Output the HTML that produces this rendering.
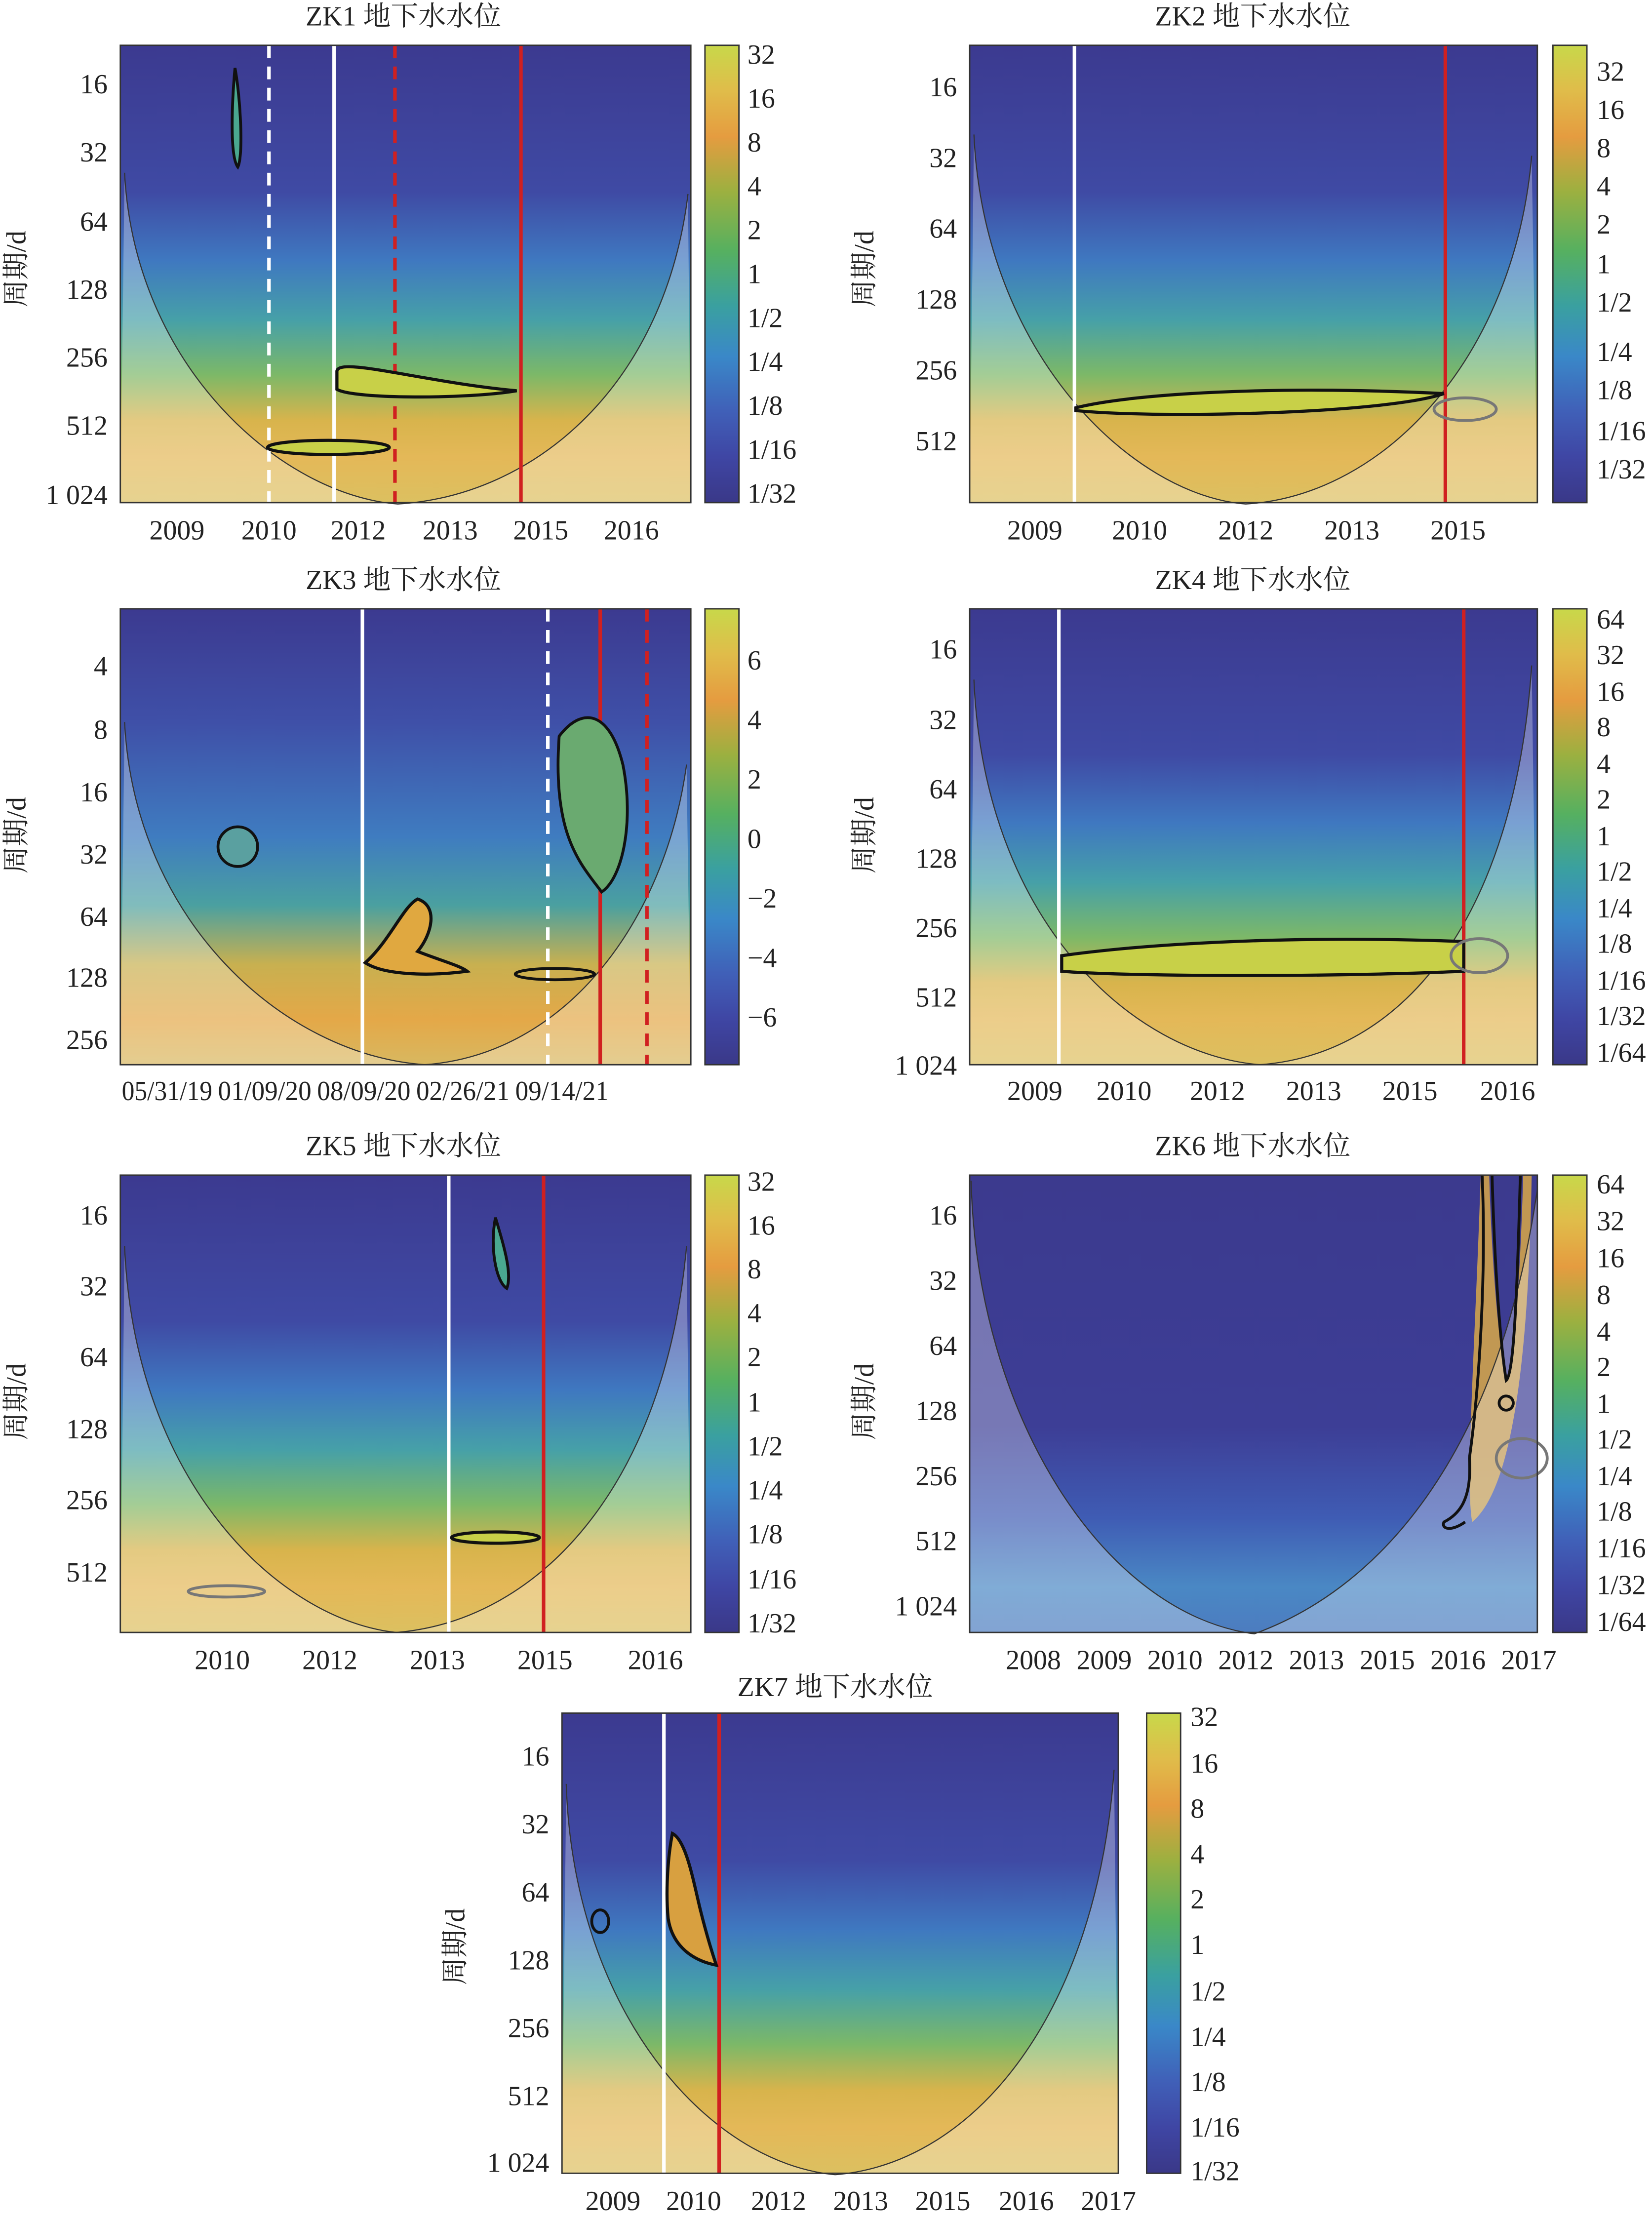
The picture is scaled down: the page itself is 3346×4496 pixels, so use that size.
<!DOCTYPE html>
<html><head><meta charset="utf-8"><style>
html,body{margin:0;padding:0;background:#fff}
svg{display:block}
text{font-family:"Liberation Serif","Noto Serif CJK SC","Noto Sans CJK SC",serif;fill:#222;font-size:19.5px}
</style></head><body>
<svg width="3346" height="4496" viewBox="0 0 1167 1568" preserveAspectRatio="none" xmlns="http://www.w3.org/2000/svg">
<defs>
<linearGradient id="gm" x1="0" y1="0" x2="0" y2="1">
<stop offset="0" stop-color="#3c3a90"/><stop offset="0.32" stop-color="#3f4aa4"/>
<stop offset="0.47" stop-color="#3f78c0"/><stop offset="0.6" stop-color="#46a0a8"/>
<stop offset="0.72" stop-color="#7cb868"/><stop offset="0.82" stop-color="#d8b44c"/>
<stop offset="0.9" stop-color="#e4b858"/><stop offset="1" stop-color="#dcc060"/></linearGradient>
<linearGradient id="g3" x1="0" y1="0" x2="0" y2="1">
<stop offset="0" stop-color="#3c3a90"/><stop offset="0.25" stop-color="#3f50a8"/>
<stop offset="0.5" stop-color="#3f7cc0"/><stop offset="0.65" stop-color="#4aa0a0"/>
<stop offset="0.78" stop-color="#c8b050"/><stop offset="0.9" stop-color="#e4a848"/><stop offset="1" stop-color="#d8b860"/></linearGradient>
<linearGradient id="g6" x1="0" y1="0" x2="0" y2="1">
<stop offset="0" stop-color="#3c3a8e"/><stop offset="0.55" stop-color="#3d3e96"/>
<stop offset="0.75" stop-color="#3f5cb4"/><stop offset="0.9" stop-color="#4a88c4"/><stop offset="1" stop-color="#4c7cc0"/></linearGradient>
<linearGradient id="cb" x1="0" y1="0" x2="0" y2="1">
<stop offset="0" stop-color="#c8d84a"/><stop offset="0.1" stop-color="#e0bc4a"/>
<stop offset="0.2" stop-color="#e59c40"/><stop offset="0.32" stop-color="#9cb040"/>
<stop offset="0.45" stop-color="#56b060"/><stop offset="0.57" stop-color="#3aa0a0"/>
<stop offset="0.68" stop-color="#3a88c8"/><stop offset="0.8" stop-color="#4060b8"/>
<stop offset="0.9" stop-color="#3f46a4"/><stop offset="1" stop-color="#3a3888"/></linearGradient>
</defs>

<!-- ZK1 -->
<text x="285" y="18" text-anchor="middle">ZK1 地下水水位</text>
<rect x="85" y="32" width="403" height="323" fill="url(#gm)"/>
<path d="M88,122 C95,260 200,350 281,356 C380,350 470,270 486,137 L488,355 L85,355 Z" fill="#fff" opacity="0.3"/>
<path d="M88,122 C95,260 200,350 281,356 C380,350 470,270 486,137" fill="none" stroke="#333" stroke-width="0.8"/>
<line x1="190" y1="32" x2="190" y2="355" stroke="#fff" stroke-width="2.5" stroke-dasharray="9,6"/>
<line x1="236" y1="32" x2="236" y2="355" stroke="#fff" stroke-width="2.5"/>
<line x1="279" y1="32" x2="279" y2="355" stroke="#d02020" stroke-width="2.5" stroke-dasharray="9,6"/>
<line x1="368" y1="32" x2="368" y2="355" stroke="#d02020" stroke-width="2.5"/>
<path d="M238,262 C240,252 300,270 365,276 C330,282 250,282 238,275 Z" fill="#c8d048" stroke="#111" stroke-width="2.2"/>
<ellipse cx="232" cy="316" rx="43" ry="5" fill="#c8d048" stroke="#111" stroke-width="2.2"/>
<path d="M166,48 C170,70 172,110 168,118 C162,110 164,70 166,48Z" fill="#4aa890" stroke="#111" stroke-width="2"/>
<rect x="85" y="32" width="403" height="323" fill="none" stroke="#333" stroke-width="1"/>
<rect x="498" y="32" width="24" height="323" fill="url(#cb)" stroke="#333"/>
<g text-anchor="end">
<text x="76" y="66">16</text><text x="76" y="114">32</text><text x="76" y="163">64</text><text x="76" y="211">128</text><text x="76" y="259">256</text><text x="76" y="307">512</text><text x="76" y="356">1 024</text></g>
<g text-anchor="middle"><text x="125" y="381">2009</text><text x="190" y="381">2010</text><text x="253" y="381">2012</text><text x="318" y="381">2013</text><text x="382" y="381">2015</text><text x="446" y="381">2016</text></g>
<g><text x="528" y="45">32</text><text x="528" y="76">16</text><text x="528" y="107">8</text><text x="528" y="138">4</text><text x="528" y="169">2</text><text x="528" y="200">1</text><text x="528" y="231">1/2</text><text x="528" y="262">1/4</text><text x="528" y="293">1/8</text><text x="528" y="324">1/16</text><text x="528" y="355">1/32</text></g>
<text transform="translate(18,190) rotate(-90)" text-anchor="middle">周期/d</text>

<!-- ZK2 -->
<text x="885" y="18" text-anchor="middle">ZK2 地下水水位</text>
<rect x="685" y="32" width="401" height="323" fill="url(#gm)"/>
<path d="M688,95 C695,250 800,350 880,356 C980,350 1070,250 1082,110 L1086,355 L685,355 Z" fill="#fff" opacity="0.3"/>
<path d="M688,95 C695,250 800,350 880,356 C980,350 1070,250 1082,110" fill="none" stroke="#333" stroke-width="0.8"/>
<line x1="759" y1="32" x2="759" y2="355" stroke="#fff" stroke-width="2.5"/>
<line x1="1021" y1="32" x2="1021" y2="355" stroke="#d02020" stroke-width="2.5"/>
<path d="M760,288 C800,278 900,272 1020,278 C980,292 820,296 760,290Z" fill="#c8d048" stroke="#111" stroke-width="2.2"/>
<ellipse cx="1035" cy="289" rx="22" ry="8" fill="none" stroke="#777" stroke-width="2"/>
<rect x="685" y="32" width="401" height="323" fill="none" stroke="#333"/>
<rect x="1097" y="32" width="24" height="323" fill="url(#cb)" stroke="#333"/>
<g text-anchor="end"><text x="676" y="68">16</text><text x="676" y="118">32</text><text x="676" y="168">64</text><text x="676" y="218">128</text><text x="676" y="268">256</text><text x="676" y="318">512</text></g>
<g text-anchor="middle"><text x="731" y="381">2009</text><text x="805" y="381">2010</text><text x="880" y="381">2012</text><text x="955" y="381">2013</text><text x="1030" y="381">2015</text></g>
<g><text x="1128" y="57">32</text><text x="1128" y="84">16</text><text x="1128" y="111">8</text><text x="1128" y="138">4</text><text x="1128" y="165">2</text><text x="1128" y="193">1</text><text x="1128" y="220">1/2</text><text x="1128" y="255">1/4</text><text x="1128" y="282">1/8</text><text x="1128" y="311">1/16</text><text x="1128" y="338">1/32</text></g>
<text transform="translate(617,190) rotate(-90)" text-anchor="middle">周期/d</text>

<!-- ZK3 -->
<text x="285" y="416" text-anchor="middle">ZK3 地下水水位</text>
<rect x="85" y="430" width="403" height="322" fill="url(#g3)"/>
<path d="M88,510 C95,650 200,745 300,752 C400,745 470,650 485,540 L488,752 L85,752 Z" fill="#fff" opacity="0.3"/>
<path d="M88,510 C95,650 200,745 300,752 C400,745 470,650 485,540" fill="none" stroke="#333" stroke-width="0.8"/>
<line x1="256" y1="430" x2="256" y2="752" stroke="#fff" stroke-width="2.5"/>
<line x1="387" y1="430" x2="387" y2="752" stroke="#fff" stroke-width="2.5" stroke-dasharray="9,6"/>
<line x1="424" y1="430" x2="424" y2="752" stroke="#d02020" stroke-width="2.5"/>
<line x1="457" y1="430" x2="457" y2="752" stroke="#d02020" stroke-width="2.5" stroke-dasharray="9,6"/>
<path d="M258,680 C275,665 285,640 295,635 C310,640 305,660 295,672 C310,678 325,682 330,686 C300,690 270,688 258,680Z" fill="#e0a840" stroke="#111" stroke-width="2.2"/>
<ellipse cx="392" cy="688" rx="28" ry="4" fill="none" stroke="#111" stroke-width="2"/>
<ellipse cx="168" cy="598" rx="14" ry="14" fill="#5aa0a0" stroke="#111" stroke-width="2"/>
<path d="M395,520 C410,500 430,500 440,540 C448,580 440,620 425,630 C410,610 390,590 395,520Z" fill="#6aaa70" stroke="#111" stroke-width="2"/>
<rect x="85" y="430" width="403" height="322" fill="none" stroke="#333"/>
<rect x="498" y="430" width="24" height="322" fill="url(#cb)" stroke="#333"/>
<g text-anchor="end"><text x="76" y="477">4</text><text x="76" y="522">8</text><text x="76" y="566">16</text><text x="76" y="610">32</text><text x="76" y="654">64</text><text x="76" y="697">128</text><text x="76" y="741">256</text></g>
<g><text x="86" y="777" textLength="64" lengthAdjust="spacingAndGlyphs">05/31/19</text><text x="154" y="777" textLength="66" lengthAdjust="spacingAndGlyphs">01/09/20</text><text x="224" y="777" textLength="66" lengthAdjust="spacingAndGlyphs">08/09/20</text><text x="294" y="777" textLength="66" lengthAdjust="spacingAndGlyphs">02/26/21</text><text x="364" y="777" textLength="66" lengthAdjust="spacingAndGlyphs">09/14/21</text></g>
<g><text x="528" y="473">6</text><text x="528" y="515">4</text><text x="528" y="557">2</text><text x="528" y="599">0</text><text x="528" y="641">−2</text><text x="528" y="683">−4</text><text x="528" y="725">−6</text></g>
<text transform="translate(18,590) rotate(-90)" text-anchor="middle">周期/d</text>

<!-- ZK4 -->
<text x="885" y="416" text-anchor="middle">ZK4 地下水水位</text>
<rect x="685" y="430" width="401" height="322" fill="url(#gm)"/>
<path d="M688,480 C695,650 800,745 890,752 C990,745 1070,650 1082,470 L1086,752 L685,752 Z" fill="#fff" opacity="0.3"/>
<path d="M688,480 C695,650 800,745 890,752 C990,745 1070,650 1082,470" fill="none" stroke="#333" stroke-width="0.8"/>
<line x1="748" y1="430" x2="748" y2="752" stroke="#fff" stroke-width="2.5"/>
<line x1="1034" y1="430" x2="1034" y2="752" stroke="#d02020" stroke-width="2.5"/>
<path d="M750,675 C800,668 900,660 1034,665 L1034,686 C950,690 800,690 750,686Z" fill="#c8d048" stroke="#111" stroke-width="2.2"/>
<ellipse cx="1045" cy="675" rx="20" ry="12" fill="none" stroke="#777" stroke-width="2"/>
<rect x="685" y="430" width="401" height="322" fill="none" stroke="#333"/>
<rect x="1097" y="430" width="24" height="322" fill="url(#cb)" stroke="#333"/>
<g text-anchor="end"><text x="676" y="465">16</text><text x="676" y="515">32</text><text x="676" y="564">64</text><text x="676" y="613">128</text><text x="676" y="662">256</text><text x="676" y="711">512</text><text x="676" y="759">1 024</text></g>
<g text-anchor="middle"><text x="731" y="777">2009</text><text x="794" y="777">2010</text><text x="860" y="777">2012</text><text x="928" y="777">2013</text><text x="996" y="777">2015</text><text x="1065" y="777">2016</text></g>
<g><text x="1128" y="444">64</text><text x="1128" y="469">32</text><text x="1128" y="495">16</text><text x="1128" y="520">8</text><text x="1128" y="546">4</text><text x="1128" y="571">2</text><text x="1128" y="597">1</text><text x="1128" y="622">1/2</text><text x="1128" y="648">1/4</text><text x="1128" y="673">1/8</text><text x="1128" y="699">1/16</text><text x="1128" y="724">1/32</text><text x="1128" y="750">1/64</text></g>
<text transform="translate(617,590) rotate(-90)" text-anchor="middle">周期/d</text>

<!-- ZK5 -->
<text x="285" y="816" text-anchor="middle">ZK5 地下水水位</text>
<rect x="85" y="830" width="403" height="323" fill="url(#gm)"/>
<path d="M88,880 C95,1050 200,1145 280,1153 C380,1145 470,1050 485,880 L488,1153 L85,1153 Z" fill="#fff" opacity="0.3"/>
<path d="M88,880 C95,1050 200,1145 280,1153 C380,1145 470,1050 485,880" fill="none" stroke="#333" stroke-width="0.8"/>
<line x1="317" y1="830" x2="317" y2="1153" stroke="#fff" stroke-width="2.5"/>
<line x1="384" y1="830" x2="384" y2="1153" stroke="#d02020" stroke-width="2.5"/>
<ellipse cx="350" cy="1086" rx="31" ry="4" fill="#c8d048" stroke="#111" stroke-width="2.2"/>
<ellipse cx="160" cy="1124" rx="27" ry="4" fill="none" stroke="#777" stroke-width="2"/>
<path d="M350,860 C356,880 362,900 358,910 C350,905 346,880 350,860Z" fill="#4aa890" stroke="#111" stroke-width="2"/>
<rect x="85" y="830" width="403" height="323" fill="none" stroke="#333"/>
<rect x="498" y="830" width="24" height="323" fill="url(#cb)" stroke="#333"/>
<g text-anchor="end"><text x="76" y="865">16</text><text x="76" y="915">32</text><text x="76" y="965">64</text><text x="76" y="1016">128</text><text x="76" y="1066">256</text><text x="76" y="1117">512</text></g>
<g text-anchor="middle"><text x="157" y="1179">2010</text><text x="233" y="1179">2012</text><text x="309" y="1179">2013</text><text x="385" y="1179">2015</text><text x="463" y="1179">2016</text></g>
<g><text x="528" y="841">32</text><text x="528" y="872">16</text><text x="528" y="903">8</text><text x="528" y="934">4</text><text x="528" y="965">2</text><text x="528" y="997">1</text><text x="528" y="1028">1/2</text><text x="528" y="1059">1/4</text><text x="528" y="1090">1/8</text><text x="528" y="1122">1/16</text><text x="528" y="1153">1/32</text></g>
<text transform="translate(18,990) rotate(-90)" text-anchor="middle">周期/d</text>

<!-- ZK6 -->
<text x="885" y="816" text-anchor="middle">ZK6 地下水水位</text>
<rect x="685" y="830" width="401" height="323" fill="url(#g6)"/>
<path d="M1046,830 L1052,830 C1054,900 1060,960 1064,975 C1070,960 1074,900 1076,830 L1082,830 C1080,950 1070,1050 1040,1075 C1035,1050 1042,950 1046,830 Z" fill="#d8a848" opacity="0.85"/>
<path d="M686,834 C690,1000 780,1140 886,1154 C980,1120 1060,1020 1086,840 L1086,1153 L685,1153 Z" fill="#fff" opacity="0.3"/>
<path d="M686,834 C690,1000 780,1140 886,1154 C980,1120 1060,1020 1086,840" fill="none" stroke="#333" stroke-width="0.8"/>
<path d="M1047,830 C1050,900 1045,980 1038,1030 C1040,1060 1030,1070 1020,1075 C1018,1080 1025,1082 1035,1075" fill="none" stroke="#111" stroke-width="2"/>
<path d="M1054,830 C1056,900 1060,950 1064,975 C1070,970 1072,900 1074,830" fill="none" stroke="#111" stroke-width="2"/>
<circle cx="1064" cy="991" r="5" fill="none" stroke="#111" stroke-width="2"/>
<ellipse cx="1075" cy="1030" rx="18" ry="14" fill="none" stroke="#777" stroke-width="2"/>
<rect x="685" y="830" width="401" height="323" fill="none" stroke="#333"/>
<rect x="1097" y="830" width="24" height="323" fill="url(#cb)" stroke="#333"/>
<g text-anchor="end"><text x="676" y="865">16</text><text x="676" y="911">32</text><text x="676" y="957">64</text><text x="676" y="1003">128</text><text x="676" y="1049">256</text><text x="676" y="1095">512</text><text x="676" y="1141">1 024</text></g>
<g text-anchor="middle"><text x="730" y="1179">2008</text><text x="780" y="1179">2009</text><text x="830" y="1179">2010</text><text x="880" y="1179">2012</text><text x="930" y="1179">2013</text><text x="980" y="1179">2015</text><text x="1030" y="1179">2016</text><text x="1080" y="1179">2017</text></g>
<g><text x="1128" y="843">64</text><text x="1128" y="869">32</text><text x="1128" y="895">16</text><text x="1128" y="921">8</text><text x="1128" y="947">4</text><text x="1128" y="972">2</text><text x="1128" y="998">1</text><text x="1128" y="1023">1/2</text><text x="1128" y="1049">1/4</text><text x="1128" y="1074">1/8</text><text x="1128" y="1100">1/16</text><text x="1128" y="1126">1/32</text><text x="1128" y="1152">1/64</text></g>
<text transform="translate(617,990) rotate(-90)" text-anchor="middle">周期/d</text>

<!-- ZK7 -->
<text x="590" y="1198" text-anchor="middle">ZK7 地下水水位</text>
<rect x="397" y="1210" width="393" height="325" fill="url(#gm)"/>
<path d="M400,1260 C405,1420 500,1528 590,1536 C690,1528 775,1420 787,1250 L790,1535 L397,1535 Z" fill="#fff" opacity="0.3"/>
<path d="M400,1260 C405,1420 500,1528 590,1536 C690,1528 775,1420 787,1250" fill="none" stroke="#333" stroke-width="0.8"/>
<line x1="469" y1="1210" x2="469" y2="1535" stroke="#fff" stroke-width="2.5"/>
<line x1="508" y1="1210" x2="508" y2="1535" stroke="#d02020" stroke-width="2.5"/>
<path d="M475,1295 C485,1300 490,1330 495,1350 C500,1370 505,1385 506,1388 C490,1385 475,1375 472,1355 C470,1335 472,1310 475,1295Z" fill="#d8a040" stroke="#111" stroke-width="2.2"/>
<ellipse cx="424" cy="1357" rx="6" ry="8" fill="none" stroke="#111" stroke-width="2"/>
<rect x="397" y="1210" width="393" height="325" fill="none" stroke="#333"/>
<rect x="810" y="1210" width="24" height="325" fill="url(#cb)" stroke="#333"/>
<g text-anchor="end"><text x="388" y="1247">16</text><text x="388" y="1295">32</text><text x="388" y="1343">64</text><text x="388" y="1391">128</text><text x="388" y="1439">256</text><text x="388" y="1487">512</text><text x="388" y="1534">1 024</text></g>
<g text-anchor="middle"><text x="433" y="1561">2009</text><text x="490" y="1561">2010</text><text x="550" y="1561">2012</text><text x="608" y="1561">2013</text><text x="666" y="1561">2015</text><text x="725" y="1561">2016</text><text x="783" y="1561">2017</text></g>
<g><text x="841" y="1219">32</text><text x="841" y="1252">16</text><text x="841" y="1284">8</text><text x="841" y="1316">4</text><text x="841" y="1348">2</text><text x="841" y="1380">1</text><text x="841" y="1413">1/2</text><text x="841" y="1445">1/4</text><text x="841" y="1477">1/8</text><text x="841" y="1509">1/16</text><text x="841" y="1540">1/32</text></g>
<text transform="translate(328,1375) rotate(-90)" text-anchor="middle">周期/d</text>
</svg>
</body></html>
